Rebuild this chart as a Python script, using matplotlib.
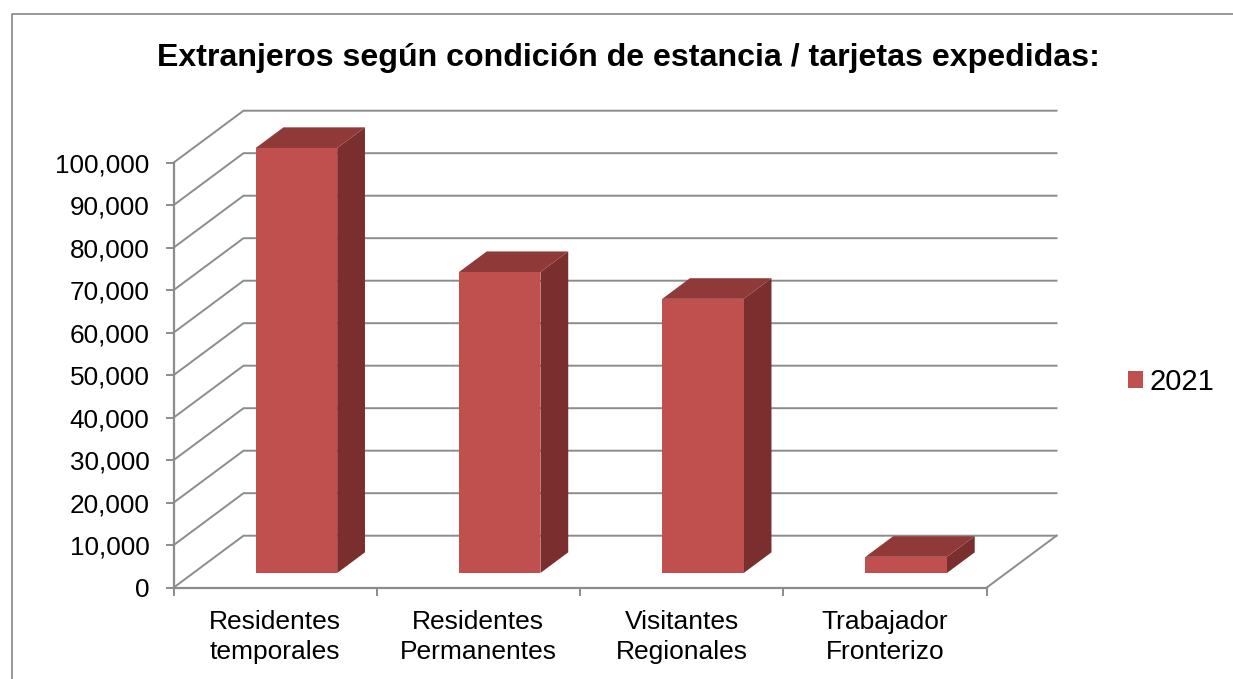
import matplotlib
matplotlib.use("Agg")
import matplotlib.pyplot as plt
from matplotlib.patches import Polygon, Patch
from matplotlib.ticker import FuncFormatter

plt.rcParams['font.family'] = ['Liberation Sans', 'DejaVu Sans']

title = "Extranjeros según condición de estancia / tarjetas expedidas:"
categories = ["Residentes\ntemporales", "Residentes\nPermanentes", "Visitantes\nRegionales", "Trabajador\nFronterizo"]
series_name = "2021"
values = [100000, 70800, 64500, 3800]
y_ticks = [0, 10000, 20000, 30000, 40000, 50000, 60000, 70000, 80000, 90000, 100000]

W, H = 1233, 679
GRID = '#8c8c8c'
FRONT, TOP, SIDE = '#C0504D', '#8F3A39', '#7A2F2E'

fig = plt.figure(figsize=(W / 100, H / 100), dpi=100, facecolor='white')
X0, X1, Y0, Y1 = 173.5, 986.5, 587.7, 162.7
ax = fig.add_axes([X0 / W, 1 - Y0 / H, (X1 - X0) / W, (Y0 - Y1) / H])
n = len(categories)
ax.set_xlim(0, n)
ax.set_ylim(0, 100000)
ax.patch.set_alpha(0)

# Depth of the 3D floor, expressed in data units of the front plane
cat_px = (X1 - X0) / n
ddx = 70 / cat_px
ddy = 52 / ((Y0 - Y1) / 100000)
lw = 1.4

# back wall, side wall, floor
for v in y_ticks:
    ax.plot([0, ddx, n + ddx], [v, v + ddy, v + ddy], color=GRID, lw=lw, clip_on=False,
            zorder=1, solid_joinstyle='miter')
ax.plot([n, n + ddx], [0, ddy], color=GRID, lw=lw, clip_on=False, zorder=1)

# bars
bar_w = 81.5 / cat_px
shift = 1.5 / cat_px
d0, d1 = 0.283, 0.68
for i, v in enumerate(values):
    c = i + 0.5 + shift
    l = c - bar_w / 2 + d0 * ddx
    r = c + bar_w / 2 + d0 * ddx
    b = d0 * ddy
    t = b + v
    ox = (d1 - d0) * ddx
    oy = (d1 - d0) * ddy
    ax.add_patch(Polygon([(r, b), (r + ox, b + oy), (r + ox, t + oy), (r, t)], closed=True,
                         fc=SIDE, ec='none', clip_on=False, zorder=3))
    ax.add_patch(Polygon([(l, t), (r, t), (r + ox, t + oy), (l + ox, t + oy)], closed=True,
                         fc=TOP, ec='none', clip_on=False, zorder=3))
    ax.add_patch(Polygon([(l, b), (r, b), (r, t), (l, t)], closed=True,
                         fc=FRONT, ec='none', clip_on=False, zorder=4))

# axes
for s in ('top', 'right'):
    ax.spines[s].set_visible(False)
for s in ('left', 'bottom'):
    ax.spines[s].set_color(GRID)
    ax.spines[s].set_linewidth(lw + 0.2)
    ax.spines[s].set_zorder(2)
ax.set_yticks(y_ticks)
ax.yaxis.set_major_formatter(FuncFormatter(lambda v, p: f"{int(v):,}"))
ax.tick_params(axis='y', length=6, width=lw, color=GRID, labelsize=18.8, pad=11.2, labelcolor='black')
ax.set_xticks(range(n + 1))
ax.set_xticklabels([])
ax.set_xticks([i + 0.5 for i in range(n)], minor=True)
ax.set_xticklabels(categories, minor=True, fontsize=19, linespacing=1.29)
ax.tick_params(axis='x', which='major', length=6, width=lw, color=GRID)
ax.tick_params(axis='x', which='minor', length=0, pad=16.2, labelcolor='black')

# title
fig.text(628 / W, 1 - 58 / H, title, ha='center', va='center', fontsize=23.1, fontweight='bold', color='black')

# legend
fig.legend(handles=[Patch(fc=FRONT, ec='none', label=series_name)],
           loc='center left', bbox_to_anchor=(1116 / W, 1 - 382 / H), frameon=False,
           fontsize=21, handlelength=0.52, handleheight=0.52, handletextpad=0.24,
           borderpad=0, borderaxespad=0.4)

# chart frame
fig.add_artist(plt.Line2D([11.5 / W, 11.5 / W, 1], [0, 1 - 14 / H, 1 - 14 / H],
                          color='#868686', lw=1.2, transform=fig.transFigure))

fig.savefig("out.png", dpi=100)
